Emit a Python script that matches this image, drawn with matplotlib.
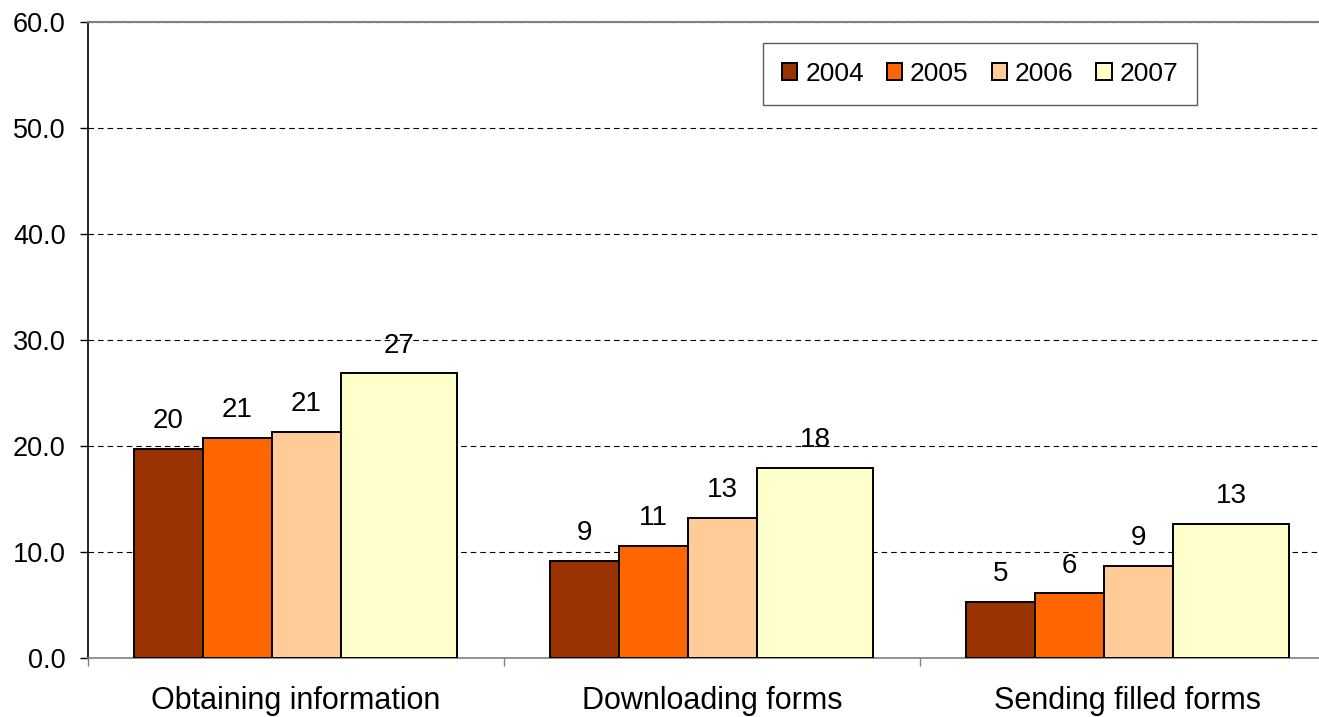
import matplotlib
matplotlib.use("Agg")
import matplotlib.pyplot as plt
import numpy as np

categories = ["Obtaining information", "Downloading forms", "Sending filled forms"]
years = ["2004", "2005", "2006", "2007"]
v2004 = [19.7, 9.15, 5.3]
v2005 = [20.8, 10.6, 6.1]
v2006 = [21.35, 13.2, 8.7]
v2007 = [26.85, 17.9, 12.65]
series = [v2004, v2005, v2006, v2007]
colors = ["#993300", "#FF6600", "#FFCC99", "#FFFFCC"]
yticks = [0, 10, 20, 30, 40, 50, 60]

# bar edges within a category slot (fractions of slot width)
edges = [0.1106, 0.2764, 0.4423, 0.6082, 0.887]

FS = 19.5
plt.rcParams['font.family'] = ['Liberation Sans', 'DejaVu Sans']
fig = plt.figure(figsize=(13.19, 7.17), dpi=100)
W, H = 1319, 717
ax = fig.add_axes([88 / W, (H - 658) / H, 1248 / W, 636 / H])

x = np.arange(len(categories))
for i, (vals, col, yr) in enumerate(zip(series, colors, years)):
    left = x - 0.5 + edges[i]
    width = edges[i + 1] - edges[i]
    bars = ax.bar(left, vals, width=width, align='edge', color=col,
                  edgecolor='black', linewidth=1.4, label=yr, zorder=3)
    for b, v in zip(bars, vals):
        ax.annotate(f"{v:.0f}", (b.get_x() + b.get_width() / 2, v),
                    xytext=(0, 15), textcoords='offset points',
                    ha='center', va='baseline', fontsize=20, zorder=4)

ax.set_xlim(-0.5, 2.5)
ax.set_ylim(0, 60)
ax.set_yticks(yticks)
ax.set_yticklabels([f"{t:.1f}" for t in yticks])
ax.yaxis.grid(True, color='black', linestyle=(0, (5, 3.6)), linewidth=0.8, zorder=0)
ax.set_axisbelow(True)

ax.set_xticks(x)
ax.set_xticklabels(categories)
ax.set_xticks(np.arange(-0.5, 3.0, 1.0), minor=True)
ax.tick_params(axis='x', which='major', length=0, pad=20, labelsize=22)
ax.tick_params(axis='x', which='minor', length=6, width=1, color='#808080', direction='out')
ax.tick_params(axis='y', length=6, width=1, pad=10, labelsize=FS, direction='out')

ax.spines['left'].set_color('black')
ax.spines['left'].set_linewidth(1.2)
ax.spines['bottom'].set_color('#808080')
ax.spines['bottom'].set_linewidth(1.2)
ax.spines['top'].set_color('#808080')
ax.spines['top'].set_linewidth(1.5)
ax.spines['right'].set_visible(False)

leg = ax.legend(ncol=4, loc='upper left', bbox_to_anchor=((763 - 88) / 1248, 1 - (43 - 22) / 636),
                fontsize=19, frameon=True, fancybox=False, edgecolor='#333333',
                handlelength=0.58, handleheight=0.58, handletextpad=0.3, columnspacing=0.87,
                borderpad=0.72, borderaxespad=0)
leg.get_frame().set_linewidth(1.0)

fig.savefig("out.png", dpi=100)
